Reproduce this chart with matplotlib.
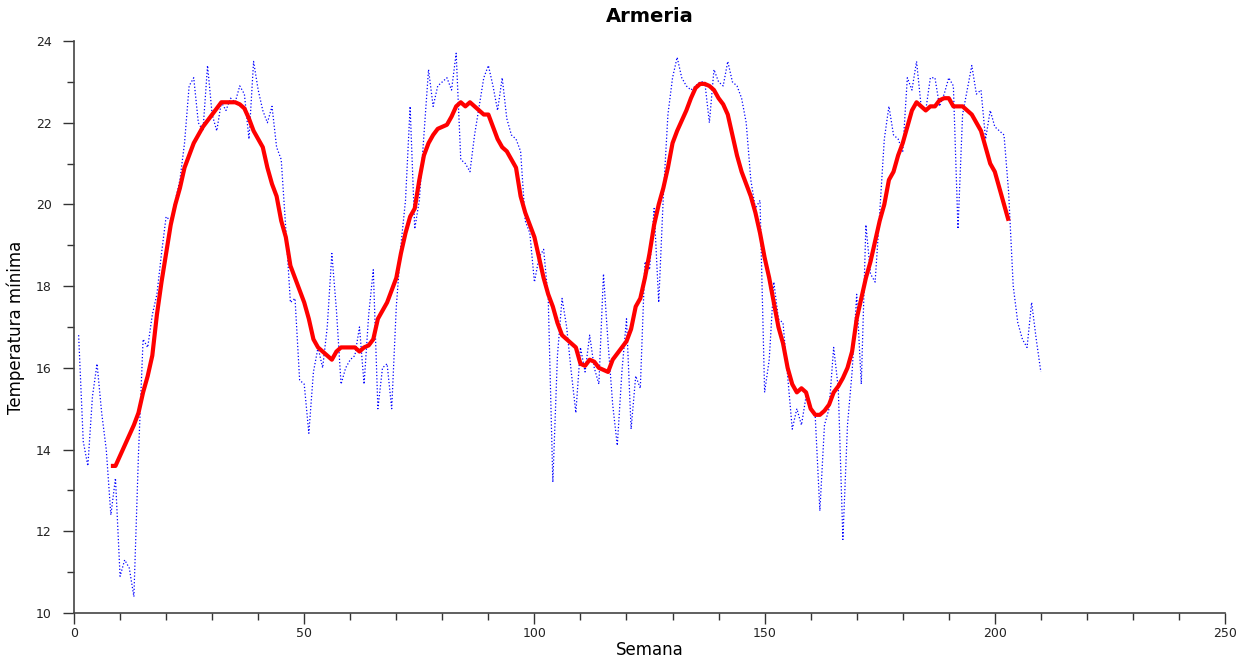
import numpy as np
import matplotlib
matplotlib.use("Agg")
import matplotlib.pyplot as plt
from matplotlib.ticker import MultipleLocator

# temperatura minima semanal (semanas 1..210)
semanas = np.arange(1, 211)
temp_min = [
    16.8, 14.2, 13.6, 15.3, 16.1, 14.9, 14.0, 12.4, 13.3, 10.9,
    11.3, 11.1, 10.4, 13.9, 16.7, 16.5, 17.3, 17.8, 18.8, 19.7,
    19.6, 20.1, 20.6, 21.5, 22.9, 23.1, 22.0, 21.8, 23.4, 22.2,
    21.8, 22.5, 22.3, 22.6, 22.5, 22.9,
    22.7, 21.6, 23.5, 22.8, 22.3, 22.0, 22.4, 21.4, 21.1, 19.4,
    17.6, 17.7, 15.7, 15.6, 14.4, 15.9, 16.5, 16.0, 17.0, 18.8,
    17.4, 15.6, 16.0, 16.2, 16.3, 17.0, 15.6, 17.3, 18.4, 15.0,
    16.0, 16.1, 15.0, 17.5, 19.0,
    20.1, 22.4, 19.4, 20.1, 21.7, 23.3, 22.4, 22.9, 23.0, 23.1,
    22.8, 23.7, 21.1, 21.0, 20.8, 21.7, 22.4, 23.1, 23.4, 22.9,
    22.3, 23.1, 22.1, 21.7, 21.6, 21.3, 19.6, 19.3, 18.1, 18.7,
    18.9, 17.7, 13.2,
    16.3, 17.7, 17.0, 15.9, 14.9, 16.5, 15.9, 16.8, 16.0, 15.6,
    18.3, 16.6, 15.1, 14.1, 15.9, 17.2, 14.5, 15.8, 15.5, 18.6,
    18.4, 19.9, 17.6, 20.2, 22.2, 23.1, 23.6, 23.1, 22.9, 22.8,
    22.9, 23.0, 23.0, 22.0, 23.3, 23.0, 22.9,
    23.5, 23.0, 22.9, 22.6, 22.0, 20.6, 19.9, 20.1, 15.4, 16.2,
    18.1, 17.2, 17.1, 15.8, 14.5, 15.0, 14.6, 15.3, 15.0, 14.8,
    12.5, 14.6, 15.0, 16.5, 15.5, 11.8, 14.6, 15.9, 17.8, 15.6,
    19.5, 18.3, 18.1, 19.8,
    21.6, 22.4, 21.7, 21.6, 21.3, 23.1, 22.8, 23.5, 22.4, 22.3,
    23.1, 23.1, 22.4, 22.7, 23.1, 22.9, 19.4, 22.2, 22.8, 23.4,
    22.7, 22.8, 21.6, 22.3, 21.9, 21.8, 21.7, 20.3, 18.0, 17.1,
    16.7, 16.5, 17.6, 16.7, 15.9,
]

# media movil (semanas 8..203)
semanas_media = np.arange(8, 204)
media_movil = [
    13.6, 13.6, 13.85, 14.1, 14.35, 14.6, 14.9, 15.4, 15.8, 16.3,
    17.3, 18.1, 18.8, 19.5, 20.0, 20.4, 20.9, 21.2, 21.5, 21.7,
    21.9, 22.05, 22.2, 22.35, 22.5, 22.5, 22.5, 22.5, 22.45, 22.35,
    22.1, 21.8, 21.6, 21.4, 20.9, 20.5, 20.2, 19.6, 19.2, 18.5,
    18.2, 17.9, 17.6, 17.2, 16.7, 16.5, 16.4, 16.3, 16.2, 16.4,
    16.5, 16.5, 16.5, 16.5, 16.4, 16.5, 16.55, 16.7, 17.2, 17.4,
    17.6, 17.9, 18.2, 18.8, 19.3, 19.7, 19.9, 20.6, 21.2, 21.5,
    21.7, 21.85, 21.9, 21.95, 22.15, 22.4, 22.5, 22.4, 22.5, 22.4,
    22.3, 22.2, 22.2, 21.9, 21.6, 21.4, 21.3, 21.1, 20.9, 20.2,
    19.8, 19.5, 19.2, 18.7, 18.2, 17.8, 17.5, 17.1, 16.8, 16.7,
    16.6, 16.5, 16.1, 16.05, 16.2, 16.15, 16.0, 15.95, 15.9, 16.2,
    16.35, 16.5, 16.65, 16.95, 17.5, 17.7, 18.2, 18.8, 19.5, 20.0,
    20.4, 20.9, 21.5, 21.8, 22.05, 22.3, 22.6, 22.85, 22.95, 22.95,
    22.9, 22.8, 22.6, 22.45, 22.2, 21.7, 21.2, 20.8, 20.5, 20.2,
    19.8, 19.3, 18.7, 18.2, 17.6, 17.0, 16.6, 16.0, 15.6, 15.4,
    15.5, 15.4, 15.0, 14.85, 14.85, 14.95, 15.1, 15.4, 15.55, 15.75,
    16.0, 16.4, 17.2, 17.7, 18.2, 18.6, 19.1, 19.6, 20.0, 20.6,
    20.8, 21.2, 21.5, 21.9, 22.3, 22.5, 22.4, 22.3, 22.4, 22.4,
    22.55, 22.6, 22.6, 22.4, 22.4, 22.4, 22.3, 22.2, 22.0, 21.8,
    21.4, 21.0, 20.8, 20.4, 20.0, 19.6,
]

fig = plt.figure(figsize=(12.38, 6.6), dpi=100)
ax = fig.add_axes([0.0598, 0.0712, 0.9297, 0.8667])

ax.plot(semanas, temp_min, linestyle=':', color='blue', linewidth=0.9)
ax.plot(semanas_media, media_movil, color='red', linewidth=3.0, solid_capstyle='butt')

ax.set_xlim(0, 250)
ax.set_ylim(10, 24)
ax.xaxis.set_major_locator(MultipleLocator(50))
ax.xaxis.set_minor_locator(MultipleLocator(10))
ax.yaxis.set_major_locator(MultipleLocator(2))
ax.yaxis.set_minor_locator(MultipleLocator(1))

for s in ['top', 'right']:
    ax.spines[s].set_visible(False)
for s in ['left', 'bottom']:
    ax.spines[s].set_color('#444444')
    ax.spines[s].set_linewidth(1.2)

ax.tick_params(which='major', length=8, width=1, color='#333333', labelsize=9, labelcolor='#222222')
ax.tick_params(which='minor', length=5, width=1, color='#333333')
ax.tick_params(axis='x', which='major', pad=2)
ax.tick_params(axis='y', which='major', pad=8)

ax.set_title('Armeria', fontsize=14, fontweight='bold', pad=14)
ax.set_xlabel('Semana', fontsize=12, labelpad=1)
ax.set_ylabel('Temperatura mínima', fontsize=12, labelpad=8)

fig.savefig('out.png', dpi=100)
